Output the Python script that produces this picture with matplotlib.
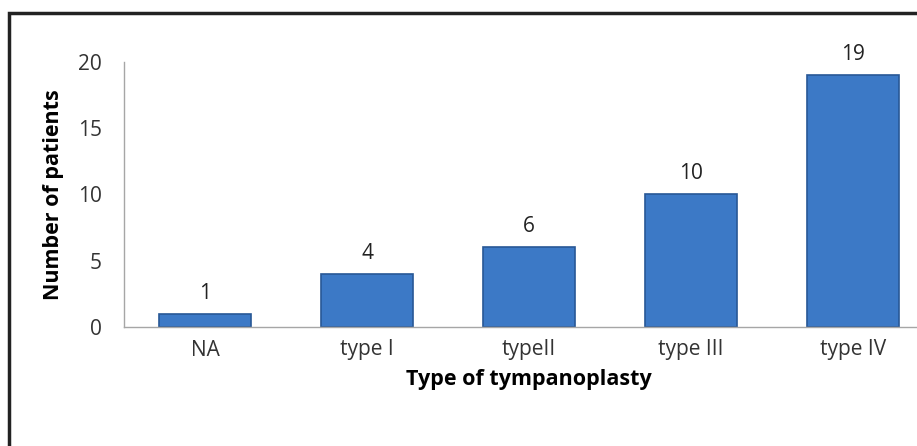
import matplotlib
matplotlib.use("Agg")
import matplotlib.pyplot as plt
from matplotlib.patches import Rectangle

categories = ["NA", "type I", "typeII", "type III", "type IV"]
patients = [1, 4, 6, 10, 19]
yticks = [0, 5, 10, 15, 20]

plt.rcParams['font.family'] = ['Open Sans', 'DejaVu Sans']

fig = plt.figure(figsize=(9.17, 4.46), dpi=100)
ax = fig.add_axes([124/917, 1-327/446, 810/917, (327-61.5)/446])

x = range(len(categories))
bars = ax.bar(x, patients, width=0.57, color="#3c79c6", edgecolor="#285896", linewidth=1.2)
for b, v in zip(bars, patients):
    ax.text(b.get_x() + b.get_width()/2, v + 0.75, str(v), ha="center", va="bottom",
            fontsize=15, color="#222222")

ax.set_xlim(-0.5, len(categories) - 0.5)
ax.set_ylim(0, 20)
ax.set_yticks(yticks)
ax.set_xticks(list(x))
ax.set_xticklabels(categories)
ax.tick_params(axis="both", length=0, labelsize=15, labelcolor="#333333")
ax.tick_params(axis="y", pad=16)
ax.tick_params(axis="x", pad=9)
for s in ["top", "right"]:
    ax.spines[s].set_visible(False)
for s in ["left", "bottom"]:
    ax.spines[s].set_color("#a6a6a6")
    ax.spines[s].set_linewidth(1)

ax.set_ylabel("Number of patients", fontsize=15.5, fontweight="bold", labelpad=10)
ax.set_xlabel("Type of tympanoplasty", fontsize=15.5, fontweight="bold", labelpad=6)

fig.patches.append(Rectangle((9/917, -0.1), 1.2, 1 - 13/446 + 0.1, transform=fig.transFigure,
                             fill=False, edgecolor="#222222", linewidth=2.5))

fig.savefig("out.png", dpi=100)
